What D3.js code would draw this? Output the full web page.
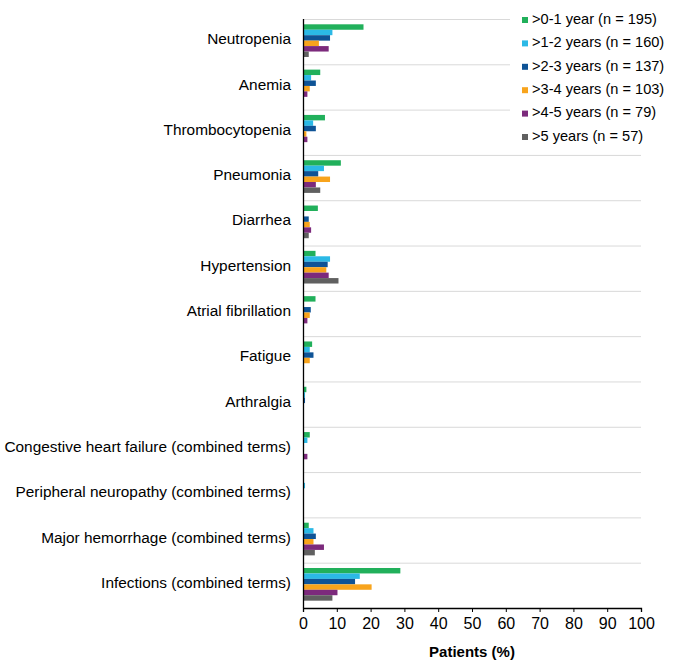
<!DOCTYPE html>
<html>
<head>
<meta charset="utf-8">
<script src="https://cdn.jsdelivr.net/npm/d3@7"></script>
<style>
  html, body { margin: 0; padding: 0; background: #fff; }
  svg { display: block; font-family: Arial, "Liberation Sans", Helvetica, sans-serif; }
</style>
</head>
<body>
<svg id="chart" width="680" height="663"></svg>
<script>
const categories = [
  "Neutropenia", "Anemia", "Thrombocytopenia", "Pneumonia", "Diarrhea",
  "Hypertension", "Atrial fibrillation", "Fatigue", "Arthralgia",
  "Congestive heart failure (combined terms)",
  "Peripheral neuropathy (combined terms)",
  "Major hemorrhage (combined terms)",
  "Infections (combined terms)"
];
const seriesNames = [
  ">0-1 year (n = 195)", ">1-2 years (n = 160)", ">2-3 years (n = 137)",
  ">3-4 years (n = 103)", ">4-5 years (n = 79)", ">5 years (n = 57)"
];
const seriesColors = ["#21b05b", "#2bb9e6", "#0e5396", "#f8a41c", "#7c2a7c", "#606060"];
// values per series, in category order
const year0to1 = [17.9, 5.1, 6.5, 11.2, 4.4, 3.7, 3.7, 2.7, 1.0, 2.0, 0.0, 1.7, 28.8];
const year1to2 = [8.7, 2.4, 3.0, 6.2, 0.3, 8.0, 0.0, 2.0, 0.6, 1.3, 0.6, 3.1, 16.8];
const year2to3 = [8.0, 3.8, 3.8, 4.5, 1.7, 7.3, 2.3, 3.1, 0.6, 0.0, 0.0, 3.8, 15.4];
const year3to4 = [4.7, 2.0, 1.0, 8.0, 2.0, 6.9, 2.0, 2.0, 0.0, 0.0, 0.0, 3.1, 20.3];
const year4to5 = [7.6, 1.3, 1.3, 3.8, 2.4, 7.6, 1.3, 0.0, 0.0, 1.3, 0.0, 6.2, 10.2];
const year5plus = [1.7, 0.0, 0.0, 5.1, 1.7, 10.5, 0.0, 0.0, 0.0, 0.0, 0.0, 3.5, 8.7];
const seriesValues = [year0to1, year1to2, year2to3, year3to4, year4to5, year5plus];
const xTicks = [0, 10, 20, 30, 40, 50, 60, 70, 80, 90, 100];

const svg = d3.select("#chart");
const margin = { left: 303, right: 39, top: 19, bottom: 55 };
const W = 680, H = 663;
const x = d3.scaleLinear().domain([0, 100]).range([margin.left, W - margin.right]);
const y = d3.scaleBand().domain(categories).range([margin.top, H - margin.bottom]).paddingInner(0).paddingOuter(0);
const inner = d3.scaleBand().domain(d3.range(seriesNames.length))
  .range([0, y.bandwidth()]).paddingInner(0).paddingOuter(1.16).align(0.42);

// gridlines at band boundaries
const bounds = categories.map(c => y(c));
svg.append("g").selectAll("line").data(bounds).join("line")
  .attr("x1", x(0)).attr("x2", x(100))
  .attr("y1", d => d + 0.5).attr("y2", d => d + 0.5)
  .attr("stroke", "#d9d9d9").attr("stroke-width", 1);

// bars
const groups = svg.append("g").selectAll("g").data(categories).join("g")
  .attr("transform", c => `translate(0,${y(c)})`);
groups.selectAll("rect")
  .data((c, ci) => seriesValues.map((vals, si) => ({ si, v: vals[ci] })))
  .join("rect")
  .attr("x", x(0))
  .attr("y", d => inner(d.si))
  .attr("width", d => x(d.v) - x(0))
  .attr("height", inner.bandwidth())
  .attr("fill", d => seriesColors[d.si]);

// category labels
svg.append("g").selectAll("text").data(categories).join("text")
  .attr("x", 291)
  .attr("y", c => y(c) + y.bandwidth() / 2 - 1.5)
  .attr("text-anchor", "end")
  .attr("dominant-baseline", "middle")
  .attr("font-size", 15.4)
  .attr("fill", "#000")
  .text(c => c);

// y axis line
svg.append("line")
  .attr("x1", x(0) + 0.5).attr("x2", x(0) + 0.5)
  .attr("y1", margin.top).attr("y2", H - margin.bottom)
  .attr("stroke", "#000").attr("stroke-width", 1.3);

// x axis
const xAxis = d3.axisBottom(x).tickValues(xTicks).tickSize(4).tickPadding(6).tickFormat(d3.format("d"));
const gx = svg.append("g").attr("transform", `translate(0,${H - margin.bottom})`).call(xAxis);
gx.select(".domain").attr("stroke", "#000").attr("stroke-width", 1.3);
gx.selectAll(".tick line").attr("stroke", "#000");
gx.selectAll(".tick text").attr("font-size", 16).attr("fill", "#000")
  .attr("font-family", "Arial, 'Liberation Sans', sans-serif");

svg.append("text")
  .attr("x", (x(0) + x(100)) / 2)
  .attr("y", 657)
  .attr("text-anchor", "middle")
  .attr("font-size", 15)
  .attr("font-weight", "bold")
  .text("Patients (%)");

// legend
const lg = svg.append("g");
lg.append("rect").attr("x", 510).attr("y", 8).attr("width", 170).attr("height", 142).attr("fill", "#fff");
const items = lg.selectAll("g").data(seriesNames).join("g")
  .attr("transform", (d, i) => `translate(522,${20 + i * 23.4})`);
items.append("rect").attr("x", 0).attr("y", -3).attr("width", 6).attr("height", 6)
  .attr("fill", (d, i) => seriesColors[i]);
items.append("text").attr("x", 10).attr("y", 0)
  .attr("dominant-baseline", "middle")
  .attr("font-size", 14.6)
  .text(d => d);
</script>
</body>
</html>
